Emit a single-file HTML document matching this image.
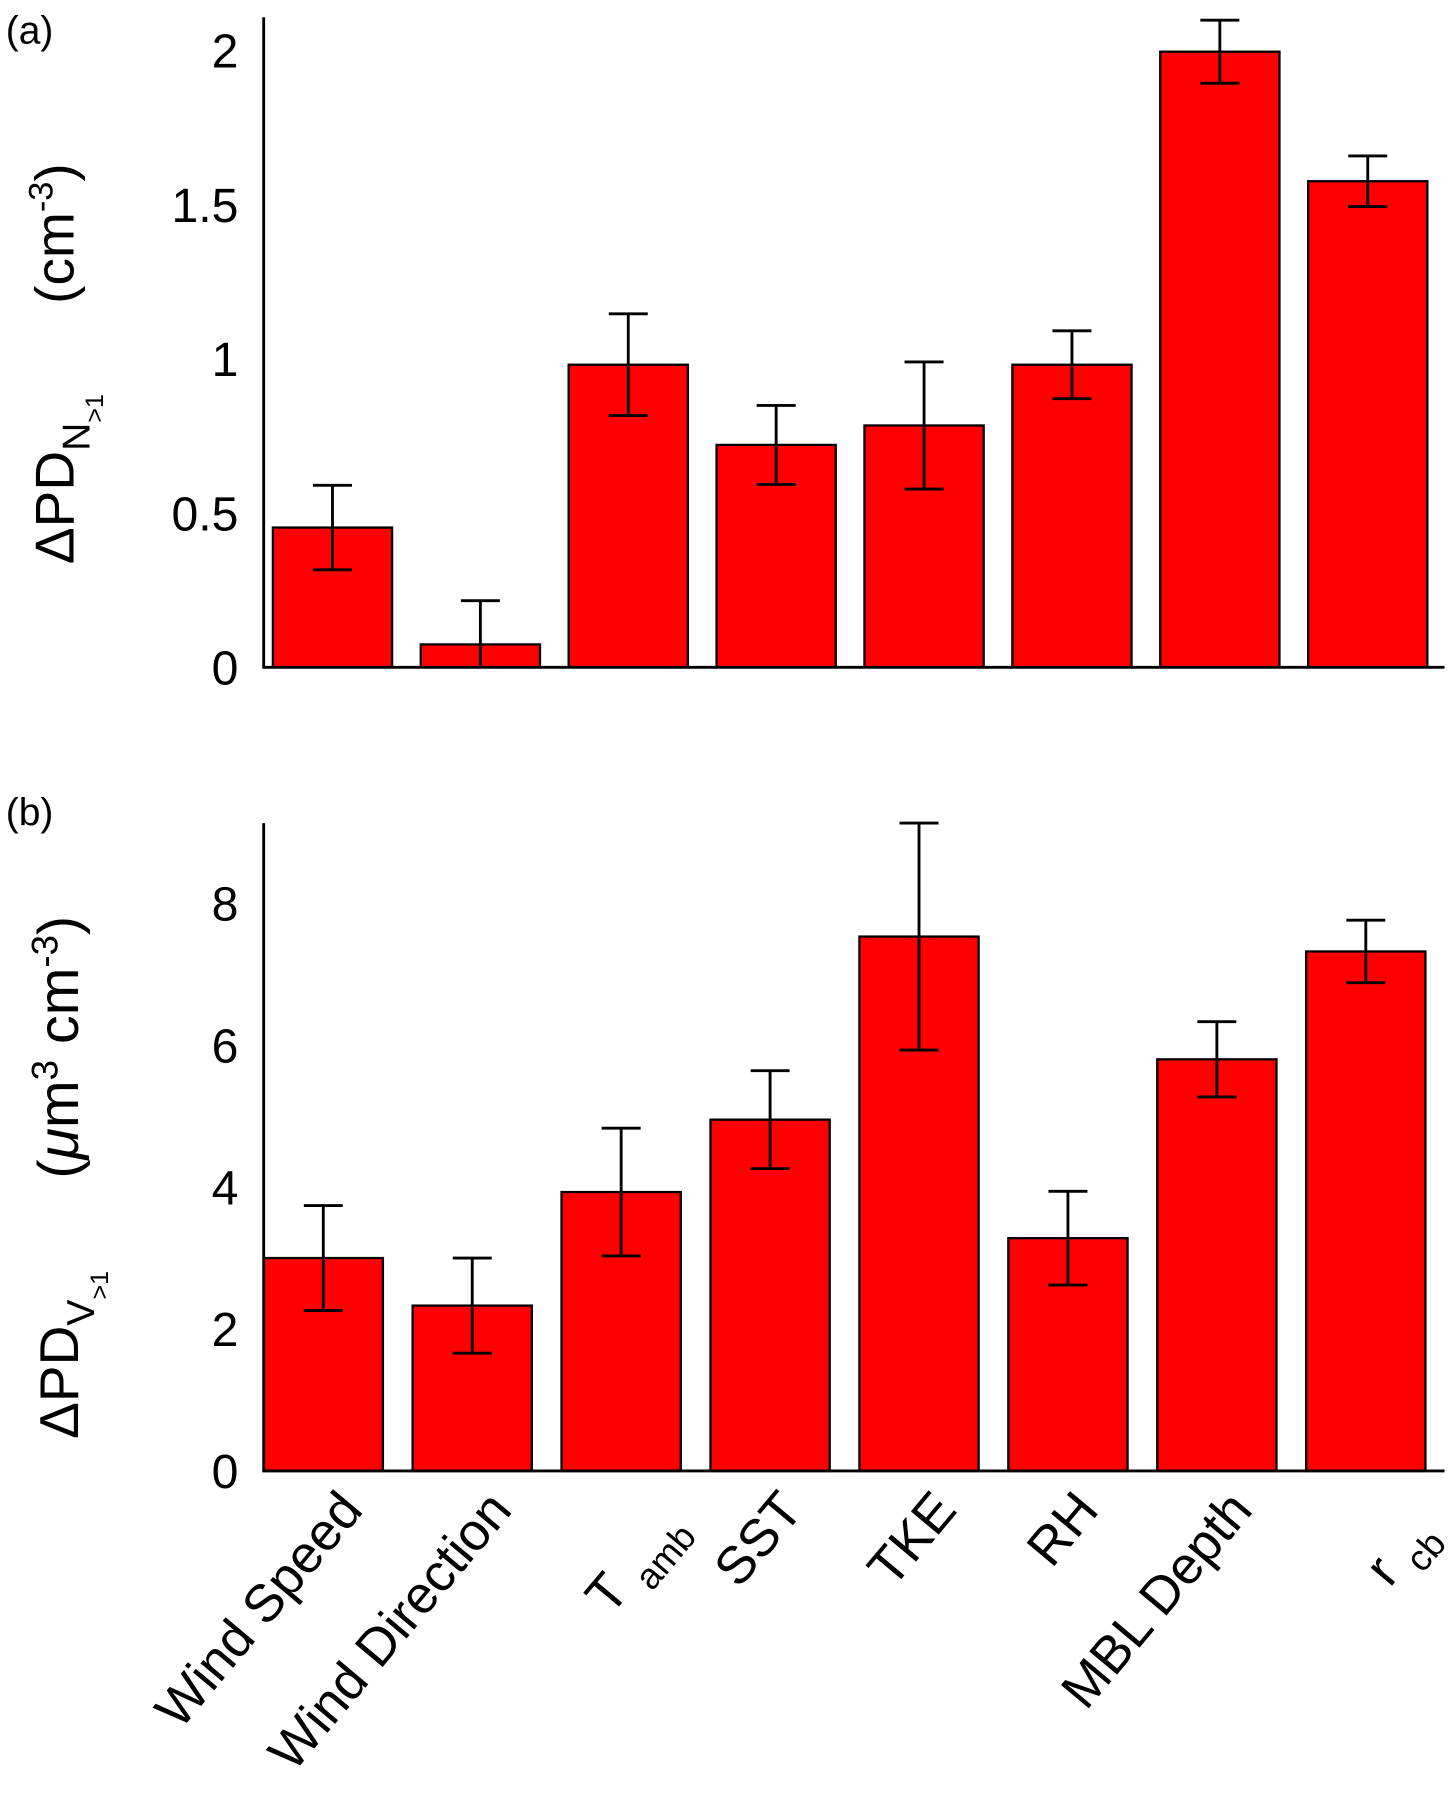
<!DOCTYPE html>
<html><head><meta charset="utf-8"><style>
html,body{margin:0;padding:0;background:#fff;}
svg{display:block;font-family:"Liberation Sans",sans-serif;}
</style></head><body>
<svg id="chart" width="1448" height="1800" viewBox="0 0 1263 1570">
<defs>
<clipPath id="clipA"><rect x="230" y="0" width="1040" height="582"/></clipPath>
<clipPath id="clipB"><rect x="230" y="700" width="1040" height="583"/></clipPath>
</defs>
<text x="5" y="38" font-size="34">(a)</text>
<text x="5" y="720" font-size="34">(b)</text>
<g>
<text transform="translate(64,492) rotate(-90)" font-size="48">ΔPD<tspan font-size="34" dy="14">N</tspan><tspan font-size="22" dy="12">&gt;1</tspan></text>
<text transform="translate(64,265) rotate(-90)" font-size="48">(cm<tspan font-size="30" dy="-18">-3</tspan><tspan dy="18">)</tspan></text>
</g>
<g>
<text transform="translate(68,1255) rotate(-90)" font-size="48">ΔPD<tspan font-size="34" dy="14">V</tspan><tspan font-size="22" dy="12">&gt;1</tspan></text>
<text transform="translate(68,1028) rotate(-90)" font-size="50">(<tspan font-style="italic">μ</tspan>m<tspan font-size="32" dy="-18">3</tspan><tspan dy="18"> cm</tspan><tspan font-size="32" dy="-18">-3</tspan><tspan dy="18">)</tspan></text>
</g>
<g id="pa"></g><g id="pb"></g>
<g font-size="46">
<text transform="translate(318,1318) rotate(-50)" text-anchor="end">Wind Speed</text>
<text transform="translate(448,1318) rotate(-50)" text-anchor="end">Wind Direction</text>
<text transform="translate(598,1332) rotate(-50)" text-anchor="end">T <tspan font-size="32" dy="14">amb</tspan></text>
<text transform="translate(702,1318) rotate(-50)" text-anchor="end">SST</text>
<text transform="translate(836,1318) rotate(-50)" text-anchor="end">TKE</text>
<text transform="translate(960,1318) rotate(-50)" text-anchor="end">RH</text>
<text transform="translate(1094,1318) rotate(-50)" text-anchor="end">MBL Depth</text>
<text transform="translate(1252,1338) rotate(-50)" text-anchor="end">r <tspan font-size="32" dy="14">cb</tspan></text>
</g>
</svg>
<script>
const categories = ["Wind Speed","Wind Direction","T amb","SST","TKE","RH","MBL Depth","r cb"];
const valuesA = [0.453,0.074,0.981,0.721,0.784,0.981,1.996,1.576];
const errorsA = [0.137,0.142,0.165,0.128,0.206,0.11,0.102,0.082];
const ticksA = [0,0.5,1,1.5,2];
const tickLabelsA = ["0","0.5","1","1.5","2"];
const valuesB = [3.0,2.33,3.93,4.95,7.53,3.28,5.8,7.32];
const errorsB = [0.74,0.67,0.9,0.69,1.6,0.66,0.53,0.44];
const ticksB = [0,2,4,6,8];
const tickLabelsB = ["0","2","4","6","8"];
const NS="http://www.w3.org/2000/svg";
function mk(g,tag,attrs){const e=document.createElementNS(NS,tag);for(const k in attrs)e.setAttribute(k,attrs[k]);g.appendChild(e);return e;}
function panel(gid,vals,errs,ticks,labels,y0,pxPer,top,x0,step,prefix,clip){
  const g=document.getElementById(gid);
  const y=v=>y0-v*pxPer;
  const x=i=>x0+i*step;
  const w=104;
  vals.forEach((v,i)=>{
    const r=mk(g,'rect',{x:x(i)-w/2,y:y(v),width:w,height:y0-y(v),fill:'#ff0000',stroke:'#000','stroke-width':2});
    
    
    const eb=mk(g,'path',{d:`M${x(i)},${y(v+errs[i])}V${y(v-errs[i])}M${x(i)-17},${y(v+errs[i])}H${x(i)+17}M${x(i)-17},${y(v-errs[i])}H${x(i)+17}`,stroke:'#000','stroke-width':2.5,fill:'none','clip-path':'url(#'+clip+')'});
    
    
  });
  const ax=mk(g,'path',{d:`M230,${top}V${y0}H1260`,stroke:'#000','stroke-width':2.5,fill:'none'});
  
  
  ticks.forEach((t,i)=>{
    const tx=mk(g,'text',{x:208,y:y(t)+15,'text-anchor':'end','font-size':42});
    tx.textContent=labels[i];
    
    
  });
}
panel('pa',valuesA,errorsA,ticksA,tickLabelsA,582,269,15,290,129,'a','clipA');
panel('pb',valuesB,errorsB,ticksB,tickLabelsB,1283,61.9,718,282,129.9,'b','clipB');
</script>
</body></html>
